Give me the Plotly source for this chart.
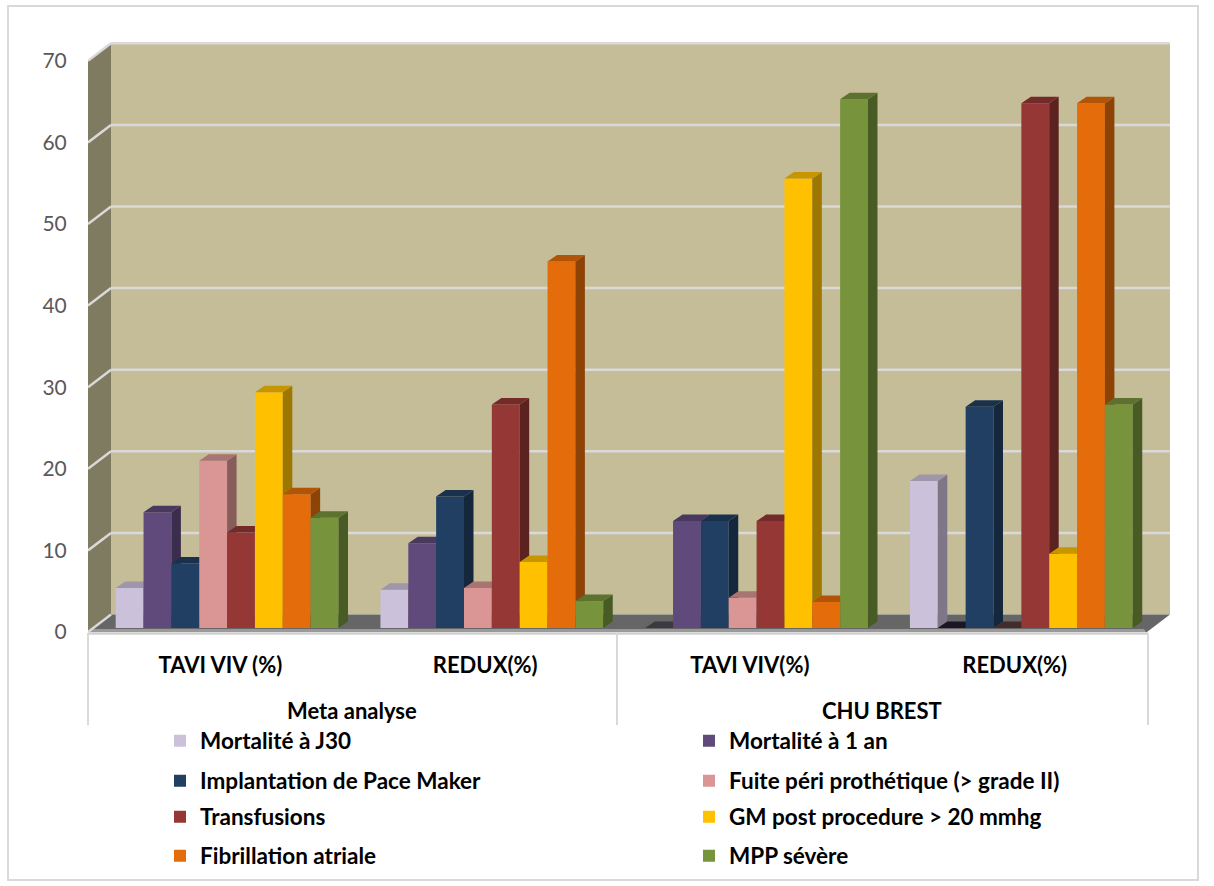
import plotly.graph_objects as go

# ---------- data ----------
groups = ["Meta analyse", "CHU BREST"]
categories = ["TAVI VIV (%)", "REDUX(%)", "TAVI VIV(%)", "REDUX(%)"]
series_names = ["Mortalité à J30", "Mortalité à 1 an", "Implantation de Pace Maker",
                "Fuite péri prothétique (> grade II)", "Transfusions",
                "GM post procedure > 20 mmhg", "Fibrillation atriale", "MPP sévère"]
mortalite_j30 = [4.9, 4.7, 0, 18.0]
mortalite_1an = [14.2, 10.4, 13.1, 0]
pace_maker = [7.9, 16.1, 13.1, 27.1]
fuite = [20.5, 4.9, 3.7, 0]
transfusions = [11.7, 27.4, 13.1, 64.3]
gm_post = [28.9, 8.1, 55.1, 9.1]
fibrillation = [16.4, 44.9, 3.2, 64.3]
mpp = [13.5, 3.3, 64.8, 27.4]
series_values = [mortalite_j30, mortalite_1an, pace_maker, fuite, transfusions, gm_post, fibrillation, mpp]
colors = ["#CCC1DA", "#604A7B", "#213F62", "#D99694", "#953735", "#FFC000", "#E46C0A", "#77933C"]
y_ticks = [0, 10, 20, 30, 40, 50, 60, 70]

# ---------- geometry (page pixels) ----------
W, H = 1214, 886
L, R, T, B = 88, 1171, 42, 632
CAT_PX = 264.75
Y_PX = 8.16
x_range = [-0.5, -0.5 + (R - L) / CAT_PX]
y_range = [0, (B - T) / Y_PX]
WALL_DX, WALL_DY = 23 / CAT_PX, 17.5 / Y_PX
BAR_DX, BAR_DY = 9.5 / CAT_PX, 6.5 / Y_PX
LIFT = 4 / Y_PX
BAR_W = 27.85 / CAT_PX
BAR_START = -0.3954
px = lambda p: (p - L) / (R - L)
py = lambda p: (B - p) / (B - T)
FONT = "Lato"


def shade(hex_color, k):
    r, g, b = (int(hex_color[i:i + 2], 16) for i in (1, 3, 5))
    return "#%02x%02x%02x" % (int(r * k), int(g * k), int(b * k))


fig = go.Figure()
x_positions = list(range(len(categories)))

for s, (name, vals, col) in enumerate(zip(series_names, series_values, colors)):
    n = "" if s == 0 else str(s + 1)
    xa, ya = "x" + n, "y" + n
    lg = "legend" + n
    offset = BAR_START + s * BAR_W
    fig.add_trace(go.Bar(x=x_positions, y=vals, base=LIFT, width=BAR_W, offset=offset, name=name,
                         marker=dict(color=col, line=dict(width=0)), xaxis=xa, yaxis=ya, legend=lg,
                         hovertemplate=name + ": %{y}<extra></extra>"))
    side_x, side_y, top_x, top_y, zero_x, zero_y = [], [], [], [], [], []
    for xc, v in zip(x_positions, vals):
        l = xc + offset
        r = l + BAR_W
        t = v + LIFT
        if v > 0:
            side_x += [r, r + BAR_DX, r + BAR_DX, r, None]
            side_y += [LIFT, LIFT + BAR_DY, t + BAR_DY, t, None]
            top_x += [l, r, r + BAR_DX, l + BAR_DX, None]
            top_y += [t, t, t + BAR_DY, t + BAR_DY, None]
        else:
            zero_x += [l, r, r + BAR_DX, l + BAR_DX, None]
            zero_y += [t, t, t + BAR_DY, t + BAR_DY, None]
    for fx, fy, fc in ((side_x, side_y, shade(col, 0.62)), (top_x, top_y, shade(col, 0.78)),
                       (zero_x, zero_y, shade(col, 0.3))):
        if fx:
            fig.add_trace(go.Scatter(x=fx, y=fy, mode="lines", fill="toself", fillcolor=fc,
                                     line=dict(width=0, color=fc), showlegend=False, hoverinfo="skip",
                                     xaxis=xa, yaxis=ya))

shapes = []


def poly(points, fill):
    path = "M" + " L".join(f"{a},{b}" for a, b in points) + " Z"
    shapes.append(dict(type="path", path=path, xref="x", yref="y", fillcolor=fill, line=dict(width=0), layer="below"))


x0, x1 = x_range[0], 3.5
top = y_ticks[-1]
poly([(x0, top), (x0 + WALL_DX, top + WALL_DY), (x0 + WALL_DX, WALL_DY), (x0, 0)], "#7F7B60")
poly([(x0 + WALL_DX, WALL_DY), (x0 + WALL_DX, top + WALL_DY), (x1 + WALL_DX, top + WALL_DY), (x1 + WALL_DX, WALL_DY)], "#C4BD97")
poly([(x0, 0), (x0 + WALL_DX, WALL_DY), (x1 + WALL_DX, WALL_DY), (x1, 0)], "#666666")
poly([(x0 + 3 / CAT_PX, 3 / Y_PX), (x1 - 3 / CAT_PX, 3 / Y_PX), (x1 - 1 / CAT_PX, 0), (x0, 0)], "#9A9A9A")
for v in y_ticks:
    shapes.append(dict(type="line", xref="x", yref="y", x0=x0, y0=v, x1=x0 + WALL_DX, y1=v + WALL_DY,
                       line=dict(color="#D9D9D9", width=2.5), layer="below"))
    if v > 0:
        shapes.append(dict(type="line", xref="x", yref="y", x0=x0 + WALL_DX, y0=v + WALL_DY, x1=x1 + WALL_DX,
                           y1=v + WALL_DY, line=dict(color="#D9D9D9", width=2.5), layer="below"))

# chart frame and multi-level axis rules
shapes.append(dict(type="rect", xref="paper", yref="paper", x0=px(8), x1=px(1198), y0=py(6), y1=py(880),
                   line=dict(color="#D9D9D9", width=2), layer="below"))
shapes.append(dict(type="line", xref="paper", yref="paper", x0=px(L), x1=px(1148), y0=py(633.5), y1=py(633.5),
                   line=dict(color="#D0D0D0", width=2.5)))
for xp in (L, 617, 1148):
    shapes.append(dict(type="line", xref="paper", yref="paper", x0=px(xp), x1=px(xp), y0=py(633), y1=py(725),
                       line=dict(color="#D9D9D9", width=2)))

annotations = [dict(text=f"<b>{g}</b>", x=px(xc), y=py(710), xref="paper", yref="paper", showarrow=False,
                    xanchor="center", yanchor="middle", font=dict(family=FONT, size=22, color="#000000"))
               for g, xc in zip(groups, (352, 882))]

layout = dict(
    width=W, height=H, paper_bgcolor="#FFFFFF", plot_bgcolor="rgba(0,0,0,0)",
    margin=dict(l=L, r=W - R, t=T, b=H - B, pad=0, autoexpand=False),
    barmode="overlay", shapes=shapes, annotations=annotations, showlegend=True,
    xaxis=dict(range=x_range, tickmode="array", tickvals=x_positions,
               ticktext=[f"<b>{c}</b>" for c in categories], showgrid=False, zeroline=False, showline=False,
               ticks="outside", ticklen=14, tickcolor="rgba(0,0,0,0)", tickfont=dict(family=FONT, size=22, color="#000000")),
    yaxis=dict(range=y_range, tickmode="array", tickvals=y_ticks, showgrid=False, zeroline=False, showline=False,
               ticks="outside", ticklen=16, tickcolor="rgba(0,0,0,0)", tickfont=dict(family=FONT, size=21, color="#595959")),
)
for s in range(1, len(series_names)):
    k = s + 1
    layout[f"xaxis{k}"] = dict(range=x_range, overlaying="x", visible=False)
    layout[f"yaxis{k}"] = dict(range=y_range, overlaying="y", visible=False)

legend_x = (160, 689)
legend_y = (741, 781, 817, 856)
for s, name in enumerate(series_names):
    key = "legend" if s == 0 else f"legend{s + 1}"
    layout[key] = dict(x=px(legend_x[s % 2]), y=py(legend_y[s // 2]), xanchor="left", yanchor="middle",
                       bgcolor="rgba(0,0,0,0)", borderwidth=0,
                       font=dict(family=FONT, size=22.5, color="#000000", weight="bold"))
fig.update_layout(**layout)
fig.write_html("out.html", config={"displayModeBar": False},
               post_script="document.body.style.margin='0';document.documentElement.style.overflow='hidden';")
